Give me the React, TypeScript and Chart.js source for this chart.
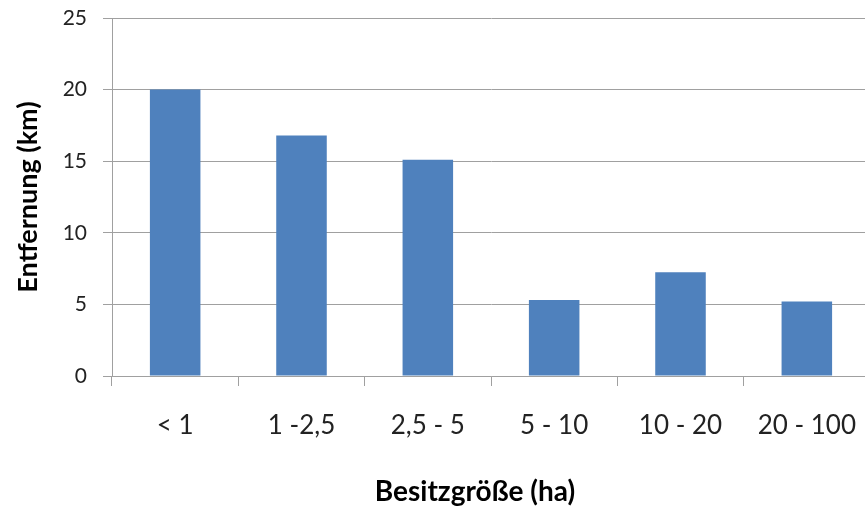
import React, { useEffect, useRef } from "react";
import { Chart, registerables } from "chart.js";

Chart.register(...registerables);

const categories = ["< 1", "1 -2,5", "2,5 - 5", "5 - 10", "10 - 20", "20 - 100"];
const distances = [20, 16.8, 15.1, 5.3, 7.25, 5.2];
const yTitle = "Entfernung (km)";
const xTitle = "Besitzgröße (ha)";

const FONT = "Lato, 'Open Sans', sans-serif";

const xTitlePlugin = {
  id: "xTitle",
  afterDraw(chart: any) {
    const ctx = chart.ctx;
    ctx.save();
    ctx.font = `bold 28px ${FONT}`;
    ctx.fillStyle = "#000";
    ctx.textAlign = "center";
    ctx.textBaseline = "middle";
    ctx.fillText(xTitle, 475, 492);
    ctx.restore();
  },
};

export default function App() {
  const ref = useRef<HTMLCanvasElement>(null);
  useEffect(() => {
    if (!ref.current) return;
    const chart = new Chart(ref.current, {
      type: "bar",
      data: {
        labels: categories,
        datasets: [
          {
            data: distances,
            backgroundColor: "#4f81bd",
            borderWidth: 0,
            categoryPercentage: 0.4,
            barPercentage: 1,
          },
        ],
      },
      plugins: [xTitlePlugin],
      options: {
        animation: false,
        responsive: false,
        layout: { padding: { top: 18, right: 0, bottom: 0, left: 0 } },
        plugins: { legend: { display: false }, tooltip: { enabled: false } },
        scales: {
          x: {
            offset: true,
            grid: {
              offset: true,
              drawOnChartArea: false,
              drawTicks: true,
              tickLength: 10,
              color: "#a0a0a0",
            },
            border: { display: true, color: "#a0a0a0" },
            ticks: {
              color: "#222",
              font: { family: FONT, size: 26 },
              padding: 24,
              maxRotation: 0,
              autoSkip: false,
            },
            afterFit(scale: any) {
              scale.height = 133;
              scale.paddingLeft = 0;
              scale.paddingRight = 0;
            },
          },
          y: {
            min: 0,
            max: 25,
            ticks: {
              stepSize: 5,
              color: "#222",
              font: { family: FONT, size: 21 },
              padding: 16,
            },
            grid: { color: "#a0a0a0", tickLength: 9, lineWidth: 1 },
            border: { display: true, color: "#a0a0a0" },
            title: {
              display: true,
              text: yTitle,
              color: "#000",
              font: { family: FONT, size: 27, weight: "bold" },
              padding: { top: 12, bottom: 0 },
            },
            afterFit(scale: any) {
              scale.width = 112;
              scale.paddingTop = 0;
              scale.paddingBottom = 0;
            },
          },
        },
      },
    });
    return () => chart.destroy();
  }, []);
  return (
    <div
      style={{
        position: "fixed",
        left: 0,
        top: 0,
        width: 865,
        height: 509,
        overflow: "hidden",
        background: "#fff",
      }}
    >
      <canvas ref={ref} width={870} height={509} style={{ width: 870, height: 509 }} />
    </div>
  );
}
